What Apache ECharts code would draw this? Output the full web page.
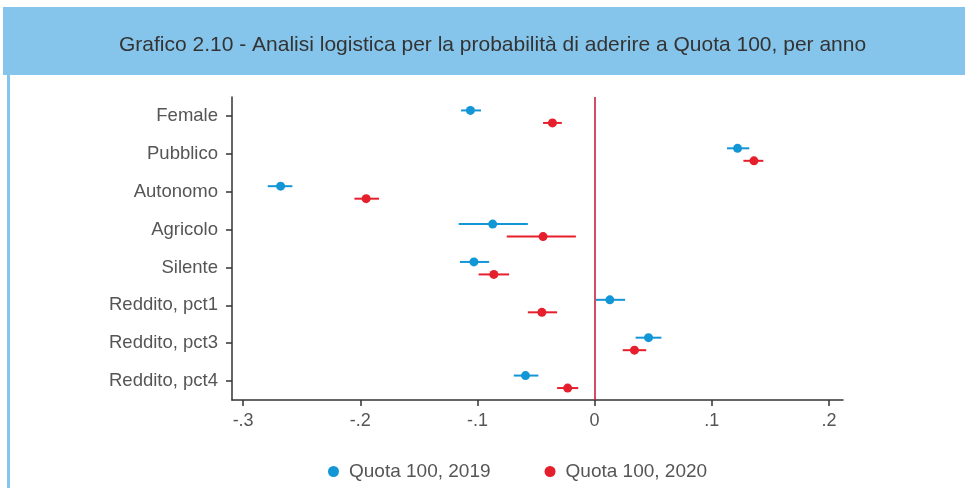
<!DOCTYPE html>
<html>
<head>
<meta charset="utf-8">
<script src="https://cdn.jsdelivr.net/npm/echarts@6/dist/echarts.min.js"></script>
<style>
  html, body { margin: 0; padding: 0; background: #fff; }
  #chart { width: 965px; height: 488px; }
</style>
</head>
<body>
<div id="chart"></div>
<script>
// categories, top to bottom
var categories = ['Female', 'Pubblico', 'Autonomo', 'Agricolo', 'Silente', 'Reddito, pct1', 'Reddito, pct3', 'Reddito, pct4'];

// Quota 100, 2019: estimate and confidence bounds
var est2019 = [-0.106, 0.122, -0.268, -0.087, -0.103, 0.013, 0.046, -0.059];
var lo2019  = [-0.114, 0.113, -0.279, -0.116, -0.115, 0.001, 0.035, -0.069];
var hi2019  = [-0.097, 0.132, -0.258, -0.057, -0.090, 0.026, 0.057, -0.048];

// Quota 100, 2020
var est2020 = [-0.036, 0.136, -0.195, -0.044, -0.086, -0.045, 0.034, -0.023];
var lo2020  = [-0.044, 0.127, -0.205, -0.075, -0.099, -0.057, 0.024, -0.032];
var hi2020  = [-0.028, 0.144, -0.184, -0.016, -0.073, -0.032, 0.044, -0.014];

var tickValues = [-0.3, -0.2, -0.1, 0, 0.1, 0.2];
var tickLabels = ['-.3', '-.2', '-.1', '0', '.1', '.2'];

var seriesNames = ['Quota 100, 2019', 'Quota 100, 2020'];

function rows(est, lo, hi) {
	return categories.map(function (c, i) {
		return [est[i], i, lo[i], hi[i]];
	});
}

function errorBar(offset) {
	return function (params, api) {
		var yi = api.value(1);
		var p = api.coord([api.value(0), yi]);
		var a = api.coord([api.value(2), yi]);
		var b = api.coord([api.value(3), yi]);
		var y = p[1] + offset;
		var color = api.visual('color');
		return {
			type: 'group',
			children: [{
				type: 'line',
				shape: { x1: a[0], y1: y, x2: b[0], y2: y },
				style: { stroke: color, lineWidth: 2 }
			}, {
				type: 'circle',
				shape: { cx: p[0], cy: y, r: 4.5 },
				style: { fill: color }
			}]
		};
	};
}

var myChart = echarts.init(document.getElementById('chart'));

var option = {
	backgroundColor: '#fff',
	animation: false,
	textStyle: { fontFamily: 'Liberation Sans, Arial, sans-serif' },
	graphic: [{
		type: 'rect',
		shape: { x: 3, y: 7, width: 962, height: 68 },
		style: { fill: '#86c5eb' },
		z: -10
	}, {
		type: 'rect',
		shape: { x: 7, y: 75, width: 3, height: 413 },
		style: { fill: '#86c5eb' },
		z: -10
	}],
	title: {
		text: 'Grafico 2.10 - Analisi logistica per la probabilità di aderire a Quota 100, per anno',
		left: 114,
		top: 30,
		textStyle: {
			fontSize: 21,
			fontWeight: 'normal',
			color: '#333',
			fontFamily: 'Liberation Sans, Arial, sans-serif'
		}
	},
	legend: {
		data: seriesNames,
		left: 323,
		top: 457,
		icon: 'circle',
		itemWidth: 11,
		itemHeight: 11,
		itemGap: 54,
		textStyle: { fontSize: 19, color: '#555', padding: [0, 0, 0, 5] }
	},
	grid: {
		left: 232,
		right: 122,
		top: 97,
		bottom: 88
	},
	xAxis: {
		type: 'value',
		min: -0.3095,
		max: 0.212,
		splitLine: { show: false },
		axisLine: { show: true, lineStyle: { color: '#333', width: 1.5 } },
		axisTick: {
			show: true,
			length: 6,
			customValues: tickValues,
			lineStyle: { color: '#333', width: 1.5 }
		},
		axisLabel: {
			customValues: tickValues,
			margin: 12,
			fontSize: 18,
			color: '#555',
			formatter: function (v) {
				return tickLabels[tickValues.indexOf(Math.round(v * 10) / 10)];
			}
		}
	},
	yAxis: {
		type: 'category',
		data: categories,
		inverse: true,
		boundaryGap: true,
		axisLine: { show: true, onZero: false, lineStyle: { color: '#333', width: 1.5 } },
		axisTick: {
			show: true,
			alignWithLabel: true,
			length: 6,
			lineStyle: { color: '#333', width: 1.5 }
		},
		axisLabel: { margin: 14, fontSize: 18.5, color: '#555' },
		splitLine: { show: false }
	},
	series: [{
		name: seriesNames[0],
		type: 'custom',
		color: '#1396d6',
		renderItem: errorBar(-5.5),
		encode: { x: [0, 2, 3], y: 1 },
		data: rows(est2019, lo2019, hi2019),
		markLine: {
			silent: true,
			symbol: 'none',
			label: { show: false },
			lineStyle: { color: '#c4122f', width: 1.5, type: 'solid' },
			data: [{ xAxis: 0 }]
		},
		z: 3
	}, {
		name: seriesNames[1],
		type: 'custom',
		color: '#e51f2b',
		renderItem: errorBar(7),
		encode: { x: [0, 2, 3], y: 1 },
		data: rows(est2020, lo2020, hi2020),
		z: 3
	}]
};

myChart.setOption(option);
</script>
</body>
</html>
